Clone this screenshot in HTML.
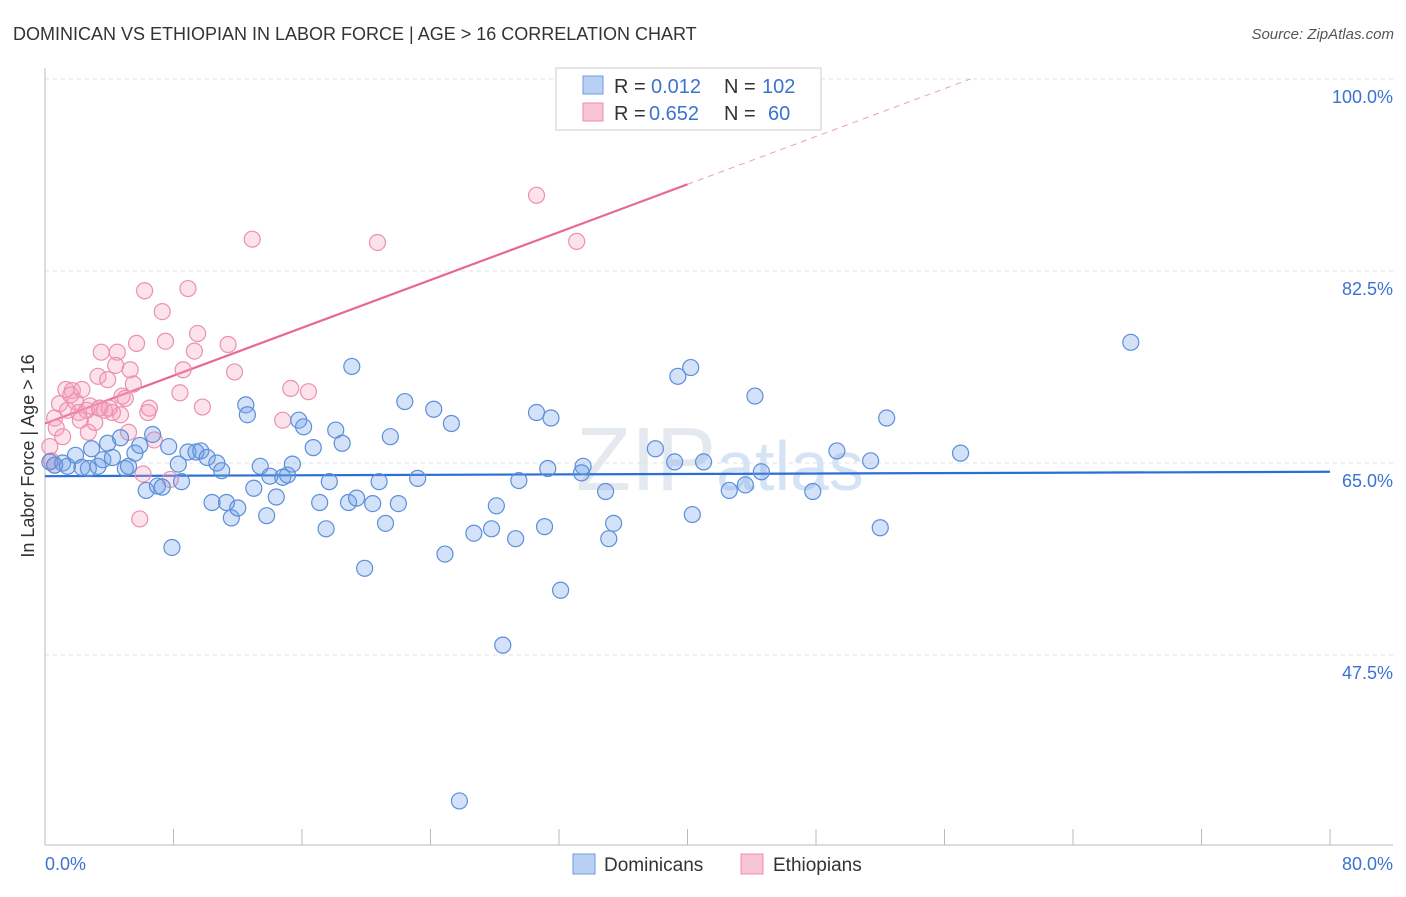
<!DOCTYPE html>
<html><head><meta charset="utf-8">
<style>
body{margin:0;background:#fff;font-family:"Liberation Sans",sans-serif;}
svg text{font-family:"Liberation Sans",sans-serif;}
</style></head>
<body>
<svg id="chart" width="1406" height="892" xmlns="http://www.w3.org/2000/svg">
<text x="13" y="40" font-size="18" fill="#333">DOMINICAN VS ETHIOPIAN IN LABOR FORCE | AGE &gt; 16 CORRELATION CHART</text>
<text x="1394" y="39" font-size="15" fill="#555" font-style="italic" text-anchor="end">Source: ZipAtlas.com</text>
<text x="720" y="490" font-size="90" fill="#e4e9f0" text-anchor="middle" font-family="Liberation Serif">ZIP<tspan fill="#d6e3f5" font-family="Liberation Sans" font-size="70">atlas</tspan></text>
<g id="grid"></g>
<g id="axes"></g>
<g id="trend"></g>
<g id="points"></g>
<text transform="translate(34,456) rotate(-90)" font-size="18" fill="#333" text-anchor="middle">In Labor Force | Age &gt; 16</text>
<text x="45" y="870" font-size="18" fill="#3b73d1">0.0%</text>
<text x="1393" y="870" font-size="18" fill="#3b73d1" text-anchor="end">80.0%</text>
<g>
<rect x="556" y="68" width="265" height="62" fill="#fff" stroke="#ccc"/>
<rect x="583" y="76" width="20" height="18" fill="#b8d0f3" stroke="#6f9be0"/>
<rect x="583" y="103" width="20" height="18" fill="#f8c4d4" stroke="#eb8fac"/>
<text x="614" y="93" font-size="20" fill="#333">R =</text>
<text x="651" y="93" font-size="20" fill="#3b73d1">0.012</text>
<text x="724" y="93" font-size="20" fill="#333">N =</text>
<text x="762" y="93" font-size="20" fill="#3b73d1">102</text>
<text x="614" y="120" font-size="20" fill="#333">R =</text>
<text x="649" y="120" font-size="20" fill="#3b73d1">0.652</text>
<text x="724" y="120" font-size="20" fill="#333">N =</text>
<text x="768" y="120" font-size="20" fill="#3b73d1">60</text>
</g>
<g>
<rect x="573" y="854" width="22" height="20" fill="#b8d0f3" stroke="#6f9be0"/>
<text x="604" y="871" font-size="19" fill="#333">Dominicans</text>
<rect x="741" y="854" width="22" height="20" fill="#f8c4d4" stroke="#eb8fac"/>
<text x="773" y="871" font-size="19" fill="#333">Ethiopians</text>
</g>
</svg>
<script>
const yTicks=[100,82.5,65,47.5];
const yTickLabels=["100.0%","82.5%","65.0%","47.5%"];
const xTicks=[0,8,16,24,32,40,48,56,64,72,80];
const blueX=[0.3,0.6,1.1,1.4,1.9,2.3,2.7,2.9,3.3,3.6,3.9,4.2,4.7,5.0,5.2,5.6,5.9,6.3,6.7,7.0,7.3,7.7,7.9,8.3,8.5,8.9,9.4,9.7,10.1,10.4,10.7,11.0,11.3,11.6,12.0,12.5,12.6,13.0,13.4,13.8,14.0,14.4,14.8,15.1,15.4,15.8,16.1,16.7,17.1,17.5,17.7,18.1,18.5,18.9,19.1,19.4,19.9,20.4,20.8,21.2,21.5,22.0,22.4,23.2,24.2,24.9,25.3,25.8,26.7,27.8,28.1,28.5,29.3,29.5,30.6,31.1,31.3,31.5,32.1,33.5,33.4,34.9,35.1,35.4,38.0,39.2,39.4,40.2,40.3,41.0,42.6,43.6,44.2,44.6,47.8,49.3,51.4,52.0,52.4,57.0,67.6];
const blueY=[65.1,64.8,65.0,64.7,65.7,64.6,64.5,66.3,64.7,65.3,66.8,65.5,67.3,64.5,64.7,65.9,66.6,62.5,67.6,62.9,62.8,66.5,57.3,64.9,63.3,66.0,66.0,66.1,65.5,61.4,65.0,64.3,61.4,60.0,60.9,70.3,69.4,62.7,64.7,60.2,63.8,61.9,63.7,63.9,64.9,68.9,68.3,66.4,61.4,59.0,63.3,68.0,66.8,61.4,73.8,61.8,55.4,61.3,63.3,59.5,67.4,61.3,70.6,63.6,69.9,56.7,68.6,34.2,58.6,59.0,61.1,48.4,58.1,63.4,69.6,59.2,64.5,69.1,53.4,64.7,64.1,62.4,58.1,59.5,66.3,65.1,72.9,73.7,60.3,65.1,62.5,63.0,71.1,64.2,62.4,66.1,65.2,59.1,69.1,65.9,76.0];
const pinkX=[0.3,0.4,0.6,0.7,0.9,1.1,1.3,1.4,1.7,1.9,2.1,2.2,2.3,2.6,2.7,2.8,3.1,3.3,3.4,3.5,3.7,3.9,4.2,4.4,4.5,4.7,4.8,5.0,5.2,5.3,5.5,5.7,5.9,6.1,6.2,6.4,6.5,6.8,7.3,7.5,7.8,8.4,8.6,8.9,9.3,9.5,9.8,11.4,11.8,12.9,14.8,15.3,16.4,20.7,30.6,33.1,0.6,1.6,3.4,4.0];
const pinkY=[66.5,65.2,69.1,68.2,70.4,67.4,71.7,69.8,71.6,70.6,69.6,68.9,71.7,69.8,67.8,70.2,68.7,72.9,70.0,75.1,69.8,72.6,69.6,73.9,75.1,69.4,71.1,70.9,67.8,73.5,72.2,75.9,59.9,64.0,80.7,69.6,70.0,67.1,78.8,76.1,63.5,71.4,73.5,80.9,75.2,76.8,70.1,75.8,73.3,85.4,68.9,71.8,71.5,85.1,89.4,85.2,64.8,71.2,70.0,70.0];
const blueTrend=[63.8,64.2];
const pinkTrend=[68.6,90.4]; // at x=0 and x=40

const NS="http://www.w3.org/2000/svg";
const X0=45,X1=1330,Y100=79,PX_PER=192/17.5;
const sx=v=>X0+(v/80)*(X1-X0);
const sy=v=>Y100+(100-v)*PX_PER;
function mk(tag,attrs,parent){const e=document.createElementNS(NS,tag);for(const k in attrs)e.setAttribute(k,attrs[k]);parent.appendChild(e);return e;}
const grid=document.getElementById('grid'),axes=document.getElementById('axes'),trend=document.getElementById('trend'),pts=document.getElementById('points');
yTicks.forEach((t,i)=>{
  const l=mk('line',{x1:X0,x2:1393,y1:sy(t),y2:sy(t),stroke:'#dde2e8','stroke-dasharray':'4,4'},grid);
  
  
  const tx=mk('text',{x:1393,y:sy(t)+24,'font-size':18,fill:'#3b73d1','text-anchor':'end'},grid);
  tx.textContent=yTickLabels[i];
  
  
});
const ya=mk('line',{x1:X0,x2:X0,y1:68,y2:845,stroke:'#bbb'},axes);


const xa=mk('line',{x1:X0,x2:1393,y1:845,y2:845,stroke:'#bbb'},axes);


xTicks.forEach(t=>{
  const l=mk('line',{x1:sx(t),x2:sx(t),y1:829,y2:845,stroke:'#bbb'},axes);
  
  
});
function dot(x,y,fill,stroke,name){
  const c=mk('circle',{cx:sx(x),cy:sy(y),r:8,fill:fill,stroke:stroke,'stroke-width':1.2},pts);
  
  
}
pinkX.forEach((x,i)=>dot(x,pinkY[i],'rgba(244,160,188,0.3)','#ec90ae','ethiopian-point'));
blueX.forEach((x,i)=>dot(x,blueY[i],'rgba(110,160,232,0.3)','#5b8fd9','dominican-point'));
const bl=mk('line',{x1:sx(0),y1:sy(blueTrend[0]),x2:sx(80),y2:sy(blueTrend[1]),stroke:'#2a6fd6','stroke-width':2.2},trend);


const slope=(pinkTrend[1]-pinkTrend[0])/40;
const xEnd=(100-pinkTrend[0])/slope;
const pl=mk('line',{x1:sx(0),y1:sy(pinkTrend[0]),x2:sx(40),y2:sy(pinkTrend[1]),stroke:'#e8679a','stroke-width':2.2},trend);


const pd=mk('line',{x1:sx(40),y1:sy(pinkTrend[1]),x2:sx(xEnd),y2:sy(100),stroke:'#e8a0b8','stroke-width':1,'stroke-dasharray':'6,5'},trend);


</script>
</body></html>
